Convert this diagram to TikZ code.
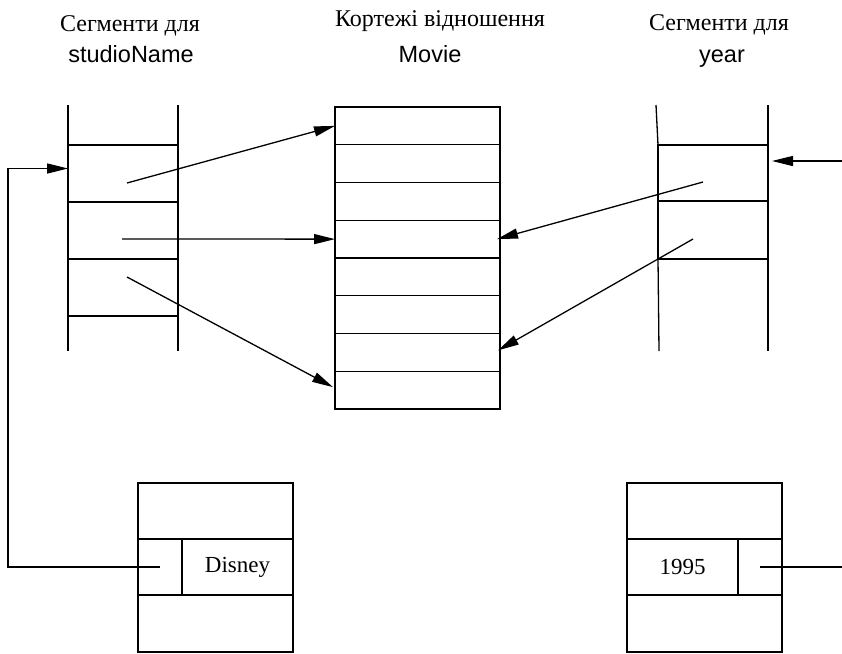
\documentclass[tikz,border=0pt]{standalone}
\usepackage{fontspec}
\setmainfont{Liberation Serif}
\setsansfont{Liberation Sans}
\usetikzlibrary{positioning,arrows.meta}

\begin{document}
\begin{tikzpicture}[x=1pt, y=-1pt, line width=1.3pt, >={Triangle[length=21pt,width=10pt]}, node distance=0pt,
	head/.style={font=\fontsize{24}{28}\selectfont, anchor=base},
	key/.style={font=\sffamily\fontsize{23.5}{28}\selectfont, anchor=base},
	tuple/.style={rectangle, draw, minimum width=165pt, minimum height=37.75pt, inner sep=0pt, outer sep=0pt},
	seg/.style={rectangle, draw, minimum width=110pt, minimum height=57pt, inner sep=0pt, outer sep=0pt},
	rec/.style={rectangle, draw, minimum width=#1, minimum height=56pt, inner sep=0pt, outer sep=0pt, font=\fontsize{23}{26}\selectfont}]
	\useasboundingbox (0,0) rectangle (842,653);

	% headings
	\node[head] (hdl)    at (130,31) {Сегменти для};
	\node[key]  (hdlkey) at (131,62) {studioName};
	\node[head] (hdm)    at (440,26) {Кортежі відношення};
	\node[key]  (hdmkey) at (430,62) {Movie};
	\node[head] (hdr)    at (719,30) {Сегменти для};
	\node[key]  (hdrkey) at (722,62) {year};

	% tuples of Movie
	\node[tuple, anchor=north west] (t1) at (335,107) {};
	\node[tuple] (t2) [below=of t1] {};
	\node[tuple] (t3) [below=of t2] {};
	\node[tuple] (t4) [below=of t3] {};
	\node[tuple] (t5) [below=of t4] {};
	\node[tuple] (t6) [below=of t5] {};
	\node[tuple] (t7) [below=of t6] {};
	\node[tuple] (t8) [below=of t7] {};

	% segments for studioName
	\draw (68,105) -- (68,351);
	\draw (178,105) -- (178,351);
	\node[seg, anchor=north west] (s1) at (68,145) {};
	\node[seg] (s2) [below=of s1] {};
	\node[seg] (s3) [below=of s2] {};

	% segments for year
	\draw (656,105) -- (658,145);
	\draw (658,259) -- (659,351);
	\draw (768,105) -- (768,351);
	\node[seg, minimum height=56pt, anchor=north west] (y1) at (658,145) {};
	\node[seg, minimum height=58pt] (y2) [below=of y1] {};

	% record with Disney
	\node[rec=155pt, anchor=north west] (dtop) at (138,483) {};
	\node[rec=44pt] (dptr) [below=of dtop.south west, anchor=north west] {};
	\node[rec=111pt] (dname) [right=of dptr] {Disney};
	\node[rec=155pt, minimum height=57pt] (dbot) [below=of dptr.south west, anchor=north west] {};

	% record with 1995
	\node[rec=155pt, anchor=north west] (ytop) at (627,483) {};
	\node[rec=111pt] (yval) [below=of ytop.south west, anchor=north west] {1995\hspace{10pt}};
	\node[rec=44pt] (yptr) [right=of yval] {};
	\node[rec=155pt, minimum height=57pt] (ybot) [below=of yval.south west, anchor=north west] {};

	\coordinate (bend) at (8,567);
	\coordinate (yin)  at (842,161);
	\coordinate (yout) at (842,567);

	% pointers
	\draw[->] (dptr.center) -- (bend) |- ([yshift=5pt]s1.west);
	\draw[->] (yin) -- ([xshift=4pt, yshift=12pt]y1.east);
	\draw (yptr.center) -- (yout);

	\draw[->] ([xshift=4pt, yshift=-9.5pt]s1.center) -- (t1.west);
	\draw[->] ([xshift=-1pt, yshift=-8.5pt]s2.center) -- (t4.west);
	\draw[->] ([xshift=4pt, yshift=10.5pt]s3.center) -- ([xshift=-2pt, yshift=3pt]t8.west);
	\draw[->] ([xshift=-10pt, yshift=-9pt]y1.center) -- ([xshift=-3pt]t4.east);
	\draw[->] ([xshift=-20pt, yshift=-9pt]y2.center) -- ([xshift=-2pt, yshift=2pt]t7.east);
\end{tikzpicture}
\end{document}
